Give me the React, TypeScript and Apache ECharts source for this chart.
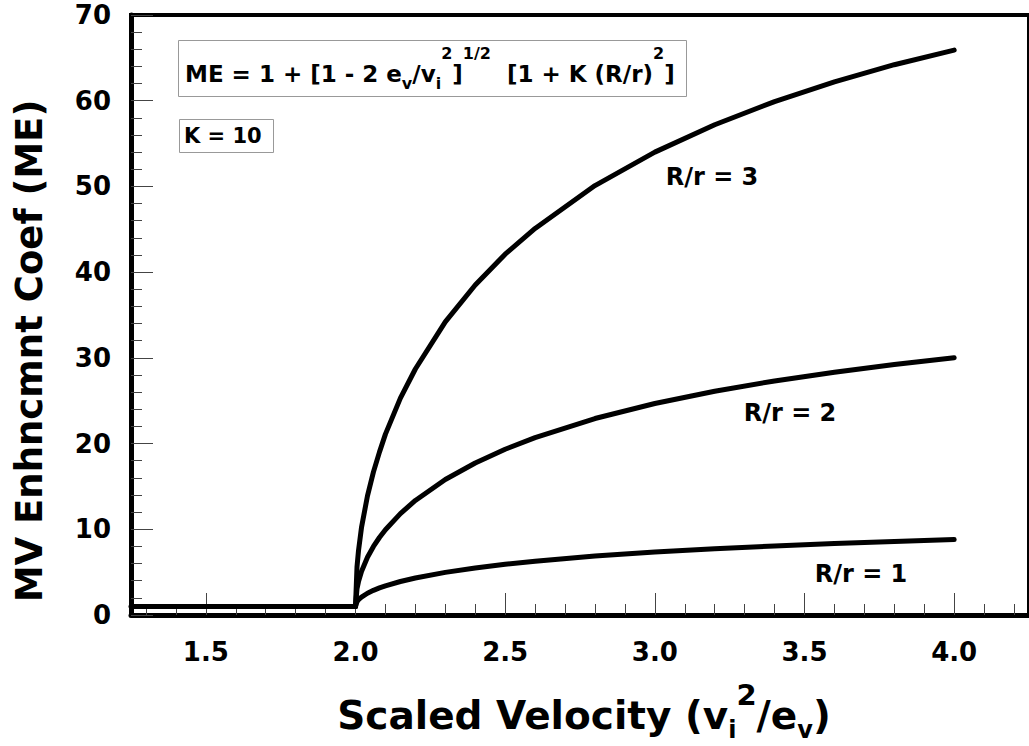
import React, { useEffect, useRef } from "react";
import * as echarts from "echarts";

// Scaled velocity (x) sample points
const xValues = [2.0, 2.005, 2.01, 2.02, 2.04, 2.06, 2.08, 2.1, 2.15, 2.2, 2.3, 2.4, 2.5, 2.6, 2.8, 3.0, 3.2, 3.4, 3.6, 3.8, 4.0];
// MV enhancement coefficient for R/r = 3, 2, 1
const meR3 = [1, 5.6, 7.5, 10.2, 13.9, 16.7, 19.0, 21.1, 25.3, 28.7, 34.2, 38.5, 42.1, 45.1, 50.1, 54.0, 57.2, 59.9, 62.2, 64.2, 65.9];
const meR2 = [1, 3.05, 3.89, 5.08, 6.74, 8.0, 9.04, 9.95, 11.83, 13.36, 15.81, 17.74, 19.34, 20.7, 22.92, 24.67, 26.11, 27.31, 28.33, 29.22, 30.0];
const meR1 = [1, 1.55, 1.78, 2.09, 2.54, 2.88, 3.16, 3.4, 3.91, 4.32, 4.97, 5.49, 5.92, 6.28, 6.88, 7.35, 7.74, 8.06, 8.33, 8.57, 8.8];
// Flat part below the threshold (ME = 1)
const flatX = [1.25, 2.0];
const flatY = [1, 1];

const xMajorTicks = [1.5, 2.0, 2.5, 3.0, 3.5, 4.0];
const xMinorTicks = [1.3, 1.4, 1.6, 1.7, 1.8, 1.9, 2.1, 2.2, 2.3, 2.4, 2.6, 2.7, 2.8, 2.9, 3.1, 3.2, 3.3, 3.4, 3.6, 3.7, 3.8, 3.9, 4.1, 4.2];

const curveLabels = ["R/r = 3", "R/r = 2", "R/r = 1"];
const formulaText = "{m|ME = 1 + [1 - 2 e}{sub|v}{m|/v}{sub|i}{sup|2}{m|]}{sup|1/2}{m|  [1 + K (R/r)}{sup|2}{m|]}";
const kText = "K = 10";
const yTitle = "MV Enhncmnt Coef (ME)";
const xTitle = "{m|Scaled Velocity (v}{sub|i}{sup|2}{m|/e}{sub|v}{m|)}";

const FAM = '"DejaVu Sans", sans-serif';
const f = (size: number) => `bold ${size}px ${FAM}`;

const pairs = (xs: number[], ys: number[]) => xs.map((x, i) => [x, ys[i]]);

export default function App() {
  const ref = useRef<HTMLDivElement>(null);
  useEffect(() => {
    if (!ref.current) return;
    const chart = echarts.init(ref.current, null, { renderer: "svg" });
    const tickLine = { color: "#444", width: 1 };
    const lineSeries = (name: string, data: number[][]) => ({
      name,
      type: "line",
      data,
      showSymbol: false,
      symbol: "none",
      clip: false,
      lineStyle: { color: "#000", width: 5, cap: "round", join: "round" },
      z: 5,
    });
    const option: any = {
      animation: false,
      backgroundColor: "#fff",
      grid: {
        left: 131,
        right: -8,
        top: 15,
        bottom: 131,
        show: true,
        borderColor: "#000",
        borderWidth: 4,
        backgroundColor: "transparent",
      },
      xAxis: [
        {
          type: "value",
          min: 1.25,
          max: 4.25,
          position: "bottom",
          axisLine: { show: true, lineStyle: { color: "#000", width: 5 } },
          axisTick: { show: true, inside: true, length: 22, customValues: xMajorTicks, lineStyle: tickLine },
          axisLabel: {
            show: true,
            customValues: xMajorTicks,
            formatter: (v: number) => v.toFixed(1),
            margin: 24,
            color: "#000",
            fontFamily: FAM,
            fontWeight: "bold",
            fontSize: 26,
          },
          splitLine: { show: false },
        },
        {
          type: "value",
          min: 1.25,
          max: 4.25,
          position: "top",
          offset: -600,
          axisLine: { show: false },
          axisTick: { show: true, inside: false, length: 11, customValues: xMinorTicks, lineStyle: tickLine },
          axisLabel: { show: false },
          splitLine: { show: false },
        },
      ],
      yAxis: {
        type: "value",
        min: 0,
        max: 70,
        interval: 10,
        axisLine: { show: true, lineStyle: { color: "#000", width: 5 } },
        axisTick: { show: true, inside: true, length: 22, lineStyle: tickLine },
        minorTick: { show: true, splitNumber: 5, length: 11, lineStyle: tickLine },
        axisLabel: {
          margin: 20,
          color: "#000",
          fontFamily: FAM,
          fontWeight: "bold",
          fontSize: 26,
          padding: [8, 0, 0, 0],
        },
        splitLine: { show: false },
      },
      series: [
        lineSeries("flat", pairs(flatX, flatY)),
        lineSeries("R/r = 3", pairs(xValues, meR3)),
        lineSeries("R/r = 2", pairs(xValues, meR2)),
        lineSeries("R/r = 1", pairs(xValues, meR1)),
      ],
      graphic: [
        {
          type: "rect",
          shape: { x: 178.5, y: 40.5, width: 508, height: 56 },
          style: { fill: "#fff", stroke: "#999", lineWidth: 1 },
          z: 10,
        },
        {
          type: "text",
          x: 185,
          y: 73.5,
          z: 11,
          style: {
            text: formulaText,
            font: f(23),
            fill: "#000",
            align: "left",
            verticalAlign: "middle",
            rich: {
              m: { font: f(23), fill: "#000", lineHeight: 30 },
              sup: { font: f(16), fill: "#000", lineHeight: 30, verticalAlign: "middle", padding: [0, 0, 40, 0] },
              sub: { font: f(16), fill: "#000", lineHeight: 30, verticalAlign: "middle", padding: [20, 0, 0, 0] },
            },
          },
        },
        {
          type: "rect",
          shape: { x: 179.5, y: 119.5, width: 94, height: 33 },
          style: { fill: "#fff", stroke: "#999", lineWidth: 1 },
          z: 10,
        },
        {
          type: "text",
          x: 184,
          y: 136,
          z: 11,
          style: { text: kText, font: f(21), fill: "#000", align: "left", verticalAlign: "middle" },
        },
        {
          type: "text",
          x: 712,
          y: 177,
          z: 11,
          style: { text: curveLabels[0], font: f(24), fill: "#000", align: "center", verticalAlign: "middle" },
        },
        {
          type: "text",
          x: 790,
          y: 413,
          z: 11,
          style: { text: curveLabels[1], font: f(24), fill: "#000", align: "center", verticalAlign: "middle" },
        },
        {
          type: "text",
          x: 861,
          y: 574,
          z: 11,
          style: { text: curveLabels[2], font: f(24), fill: "#000", align: "center", verticalAlign: "middle" },
        },
        {
          type: "text",
          x: 29,
          y: 351,
          rotation: Math.PI / 2,
          z: 11,
          style: { text: yTitle, font: f(37), fill: "#000", align: "center", verticalAlign: "middle" },
        },
        {
          type: "text",
          x: 584,
          y: 715,
          z: 11,
          style: {
            text: xTitle,
            font: f(39),
            fill: "#000",
            align: "center",
            verticalAlign: "middle",
            rich: {
              m: { font: f(39), fill: "#000", lineHeight: 46 },
              sup: { font: f(29), fill: "#000", lineHeight: 46, verticalAlign: "middle", padding: [0, 0, 40, 0] },
              sub: { font: f(24), fill: "#000", lineHeight: 46, verticalAlign: "middle", padding: [30, 0, 0, 0] },
            },
          },
        },
      ],
    };
    chart.setOption(option);
    return () => chart.dispose();
  }, []);
  return (
    <div
      ref={ref}
      style={{ position: "fixed", left: 0, top: 0, width: 1029, height: 746, background: "#fff" }}
    />
  );
}
